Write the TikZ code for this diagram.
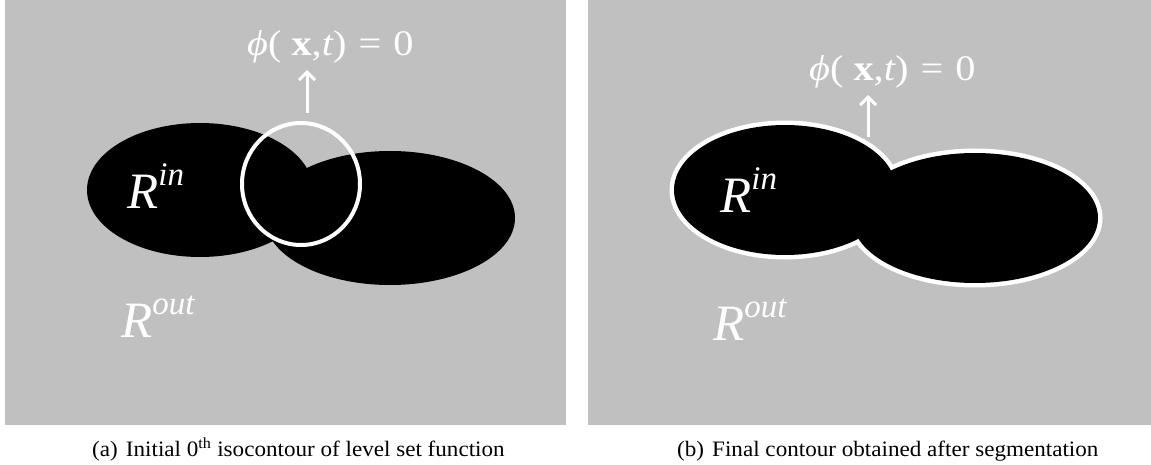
\documentclass[tikz,border=0pt]{standalone}
\usepackage{fontspec}
\setmainfont{Liberation Serif}
\usetikzlibrary{arrows.meta}
\definecolor{panelgray}{RGB}{192,192,192}
\tikzset{
  panel/.style={fill=panelgray},
  blob/.style={fill=black},
  whitelbl/.style={text=white, inner sep=0pt, anchor=base west},
  caplbl/.style={text=black, inner sep=0pt, anchor=base west, font=\fontsize{22}{22}\selectfont},
  uparrow/.style={draw=white, line width=3pt, -{Straight Barb[length=8pt,width=16pt]}},
}
\newcommand{\Rlab}[1]{\fontsize{51}{51}\selectfont\itshape R\raisebox{23pt}{\fontsize{33}{33}\selectfont #1}}
\newcommand{\philab}{\scalebox{1.12}[1]{\fontsize{36}{36}\selectfont{\itshape ϕ}( \textbf{x},{\itshape t})\hspace{0.3em}=\hspace{0.3em}0}}
\newcommand{\caplab}[1]{\scalebox{1.05}[1]{#1}}
\begin{document}
\begin{tikzpicture}[x=1pt,y=-1pt]
\useasboundingbox (0,0) rectangle (1151,465);
\fill[white] (0,0) rectangle (1151,465);
% panels
\fill[panel] (5,0) rectangle (566,425);
\fill[panel] (588,0) rectangle (1151,425);
% left panel shapes
\fill[blob] (200,190) ellipse [x radius=113pt, y radius=67pt];
\fill[blob] (390,218) ellipse [x radius=125pt, y radius=67pt];
\draw[white, line width=4pt] (301,184) ellipse [x radius=59pt, y radius=61pt];
% right panel shapes
\draw[white, line width=9pt] (785,190) ellipse [x radius=111pt, y radius=65pt];
\draw[white, line width=9pt] (975,218) ellipse [x radius=123pt, y radius=65pt];
\fill[blob] (785,190) ellipse [x radius=111pt, y radius=65pt];
\fill[blob] (975,218) ellipse [x radius=123pt, y radius=65pt];
% labels left
\node[whitelbl] (phiL) at (247,56) {\philab};
\node[whitelbl] (rinL) at (127,209) {\Rlab{in}};
\node[whitelbl] (routL) at (121,337) {\Rlab{out}};
\coordinate (aLs) at (307,113);
\coordinate (aLe) at (307,70);
\draw[uparrow] (aLs) -- (aLe);
% labels right
\node[whitelbl] (phiR) at (809,81) {\philab};
\node[whitelbl] (rinR) at (720,212) {\Rlab{in}};
\node[whitelbl] (routR) at (713,340) {\Rlab{out}};
\coordinate (aRs) at (868,137);
\coordinate (aRe) at (868,95);
\draw[uparrow] (aRs) -- (aRe);
% captions
\node[caplbl] (capA) at (92,456) {\caplab{(a)\hspace{0.35em}Initial 0\textsuperscript{th} isocontour of level set function}};
\node[caplbl] (capB) at (677,456) {\caplab{(b)\hspace{0.35em}Final contour obtained after segmentation}};
\end{tikzpicture}
\end{document}
